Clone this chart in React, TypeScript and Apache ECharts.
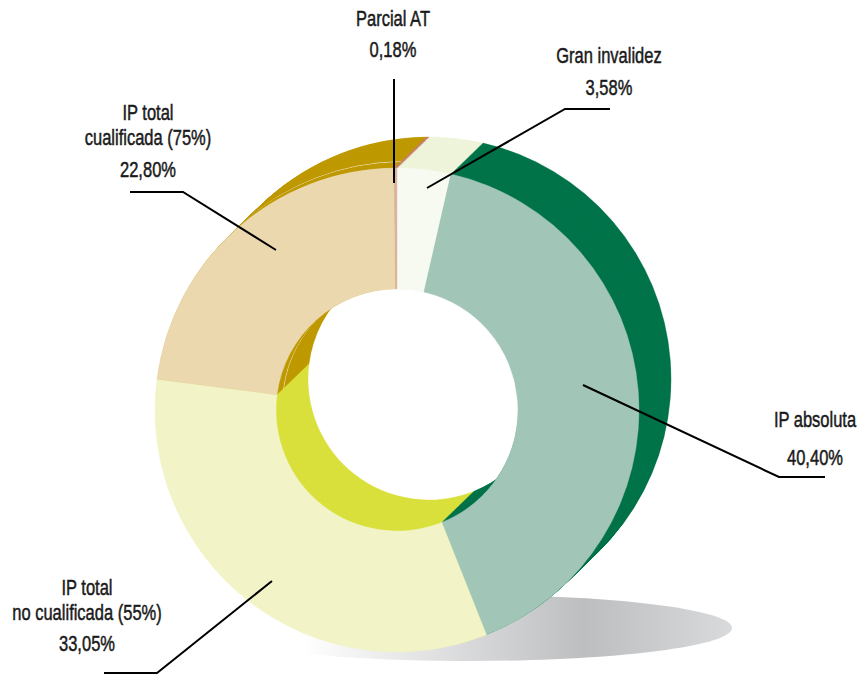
import React, { useEffect, useRef } from "react";
import * as echarts from "echarts";

// ---- data (clockwise from 12 o'clock) ----
const categories = [
  "Gran invalidez",
  "IP absoluta",
  "IP total no cualificada (55%)",
  "IP total cualificada (75%)",
  "Parcial AT",
];
const values = [3.58, 40.4, 33.05, 22.8, 0.18];
const labelNameLines = [
  ["Gran invalidez"],
  ["IP absoluta"],
  ["IP total", "no cualificada (55%)"],
  ["IP total", "cualificada (75%)"],
  ["Parcial AT"],
];

// ---- styles ----
const frontColors = ["#F7FAF0", "#A1C5B6", "#F2F4C8", "#EBD8AE", "#DDB2A2"];
const sideColors = ["#EEF4DA", "#00734A", "#DAE03C", "#BF9900", "#C8806A"];

// label layout: center x, baselines of name lines, baseline of value, leader points
const labelLayouts = [
  { x: 609, names: [63], value: 95, line: [[610, 109], [565, 109], [427, 188]] },
  { x: 815, names: [427], value: 465, line: [[583, 385], [779, 477], [825, 477]] },
  { x: 87, names: [595, 620], value: 651, line: [[272, 581], [157, 673], [104, 673]] },
  { x: 148, names: [120, 145], value: 177, line: [[276, 250], [183, 192], [130, 192]] },
  { x: 393, names: [26], value: 57, line: [[394, 79], [394, 183]] },
];

const FONT = '"Liberation Sans", Arial, sans-serif';
const FONT_SIZE = 22;
const SQUEEZE = 0.75;

function fmt(v: number) {
  return v.toFixed(2).replace(".", ",") + "%";
}

export default function App() {
  const ref = useRef<HTMLDivElement>(null);
  useEffect(() => {
    if (!ref.current) return;
    const chart = echarts.init(ref.current, undefined, { renderer: "svg" });

    const front = { x: 397, y: 410 };
    const depth = { x: 32, y: -31 };
    const radius = [121, 242];
    const N = 44;
    const highlightStep = 9;

    const series: any[] = [];
    const mkData = (colors: string[], highlight: boolean) =>
      categories.map((name, i) => ({
        name,
        value: values[i],
        itemStyle: {
          color: colors[i],
          borderColor: highlight && i === 3 ? "#EADBB0" : colors[i],
          borderWidth: highlight && i === 3 ? 1 : 0.4,
        },
      }));

    for (let i = N; i >= 1; i--) {
      const t = i / N;
      series.push({
        type: "pie",
        silent: true,
        center: [front.x + depth.x * t, front.y + depth.y * t],
        radius,
        startAngle: 90,
        clockwise: true,
        avoidLabelOverlap: false,
        label: { show: false },
        labelLine: { show: false },
        emphasis: { disabled: true },
        data: mkData(sideColors, i === highlightStep),
      });
    }
    series.push({
      type: "pie",
      silent: true,
      center: [front.x, front.y],
      radius,
      startAngle: 90,
      clockwise: true,
      avoidLabelOverlap: false,
      label: { show: false },
      labelLine: { show: false },
      emphasis: { disabled: true },
      data: mkData(frontColors, false),
    });

    const graphics: any[] = [
      {
        type: "ellipse",
        z: 0,
        silent: true,
        shape: { cx: 470, cy: 628, rx: 262, ry: 33 },
        style: {
          fill: new echarts.graphic.LinearGradient(0, 0, 1, 0, [
            { offset: 0, color: "#FFFFFF" },
            { offset: 0.18, color: "#FFFFFF" },
            { offset: 0.72, color: "#BDBEC0" },
            { offset: 1, color: "#D9DADC" },
          ]),
        },
      },
    ];

    const mkText = (txt: string, x: number, baseline: number) => ({
      type: "text",
      z: 100,
      silent: true,
      x,
      y: baseline - 8,
      scaleX: SQUEEZE,
      style: {
        text: txt,
        x: 0,
        y: 0,
        textAlign: "center",
        textVerticalAlign: "middle",
        fontSize: FONT_SIZE,
        fontFamily: FONT,
        fill: "#1A1A1A",
        stroke: "#1A1A1A",
        lineWidth: 0.5,
      },
    });

    labelLayouts.forEach((lay, i) => {
      labelNameLines[i].forEach((txt, j) => {
        graphics.push(mkText(txt, lay.x, lay.names[j]));
      });
      graphics.push(mkText(fmt(values[i]), lay.x, lay.value));
      graphics.push({
        type: "polyline",
        z: 100,
        silent: true,
        shape: { points: lay.line },
        style: { stroke: "#000000", lineWidth: 2, fill: null },
      });
    });

    chart.setOption({
      animation: false,
      backgroundColor: "#FFFFFF",
      series,
      graphic: { elements: graphics },
    });

    return () => chart.dispose();
  }, []);

  return (
    <div
      ref={ref}
      style={{ position: "absolute", left: 0, top: 0, width: 861, height: 676 }}
    />
  );
}
